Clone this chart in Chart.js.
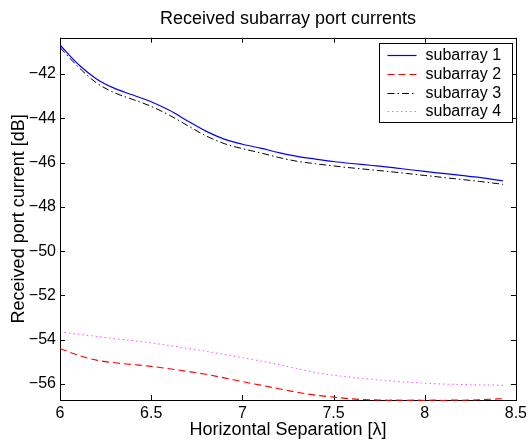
<!DOCTYPE html>
<html>
<head>
<meta charset="utf-8">
<script src="https://cdn.jsdelivr.net/npm/chart.js@4.4.1/dist/chart.umd.min.js"></script>
<style>
  html, body { margin: 0; padding: 0; background: #ffffff; }
  #wrap { width: 531px; height: 441px; }
</style>
</head>
<body>
<div id="wrap"><canvas id="c" width="531" height="441"></canvas></div>
<script>
// ---- data ----
const chartTitle = 'Received subarray port currents';
const xTitle = 'Horizontal Separation [λ]';
const yTitle = 'Received port current [dB]';
const seriesNames = ['subarray 1', 'subarray 2', 'subarray 3', 'subarray 4'];

const separation = [6.0, 6.1, 6.2, 6.3, 6.4, 6.5, 6.6, 6.7, 6.8, 6.9, 7.0, 7.1, 7.2, 7.3, 7.4, 7.5, 7.6, 7.7, 7.8, 7.9, 8.0, 8.1, 8.2, 8.3, 8.4, 8.43];

const subarray1 = [-40.69, -41.56, -42.22, -42.65, -42.95, -43.25, -43.64, -44.12, -44.58, -44.94, -45.17, -45.35, -45.55, -45.72, -45.84, -45.95, -46.04, -46.12, -46.20, -46.30, -46.40, -46.49, -46.58, -46.67, -46.79, -46.83];
const subarray2 = [-54.39, -54.70, -54.92, -55.04, -55.12, -55.20, -55.31, -55.43, -55.56, -55.72, -55.89, -56.05, -56.21, -56.37, -56.50, -56.59, -56.67, -56.71, -56.73, -56.74, -56.74, -56.74, -56.73, -56.71, -56.67, -56.66];
const subarray3 = [-40.80, -41.68, -42.40, -42.85, -43.15, -43.46, -43.86, -44.33, -44.79, -45.14, -45.37, -45.56, -45.77, -45.94, -46.05, -46.15, -46.24, -46.32, -46.40, -46.49, -46.58, -46.67, -46.76, -46.85, -46.95, -46.98];
const subarray4 = [-53.64, -53.75, -53.85, -53.95, -54.04, -54.14, -54.26, -54.39, -54.52, -54.66, -54.81, -54.96, -55.12, -55.30, -55.48, -55.60, -55.70, -55.78, -55.85, -55.91, -55.96, -56.00, -56.02, -56.04, -56.05, -56.06];

const xTicks = [6, 6.5, 7, 7.5, 8, 8.5];
const yTicks = [-56, -54, -52, -50, -48, -46, -44, -42];
const xLimits = [6, 8.5];
const yLimits = [-56.72, -40.36];

// ---- styling ----
const FONT = '"Liberation Sans", Arial, Helvetica, sans-serif';
const styles = [
  { color: '#0000ff', dash: [], width: 1.2 },
  { color: '#ff0000', dash: [7, 4], width: 1.1 },
  { color: '#000000', dash: [7, 3, 1.5, 3], width: 1 },
  { color: 'rgba(255,0,255,0.65)', dash: [1.5, 3], width: 1.1 }
];
const allSeries = [subarray1, subarray2, subarray3, subarray4];

const datasets = allSeries.map((vals, i) => ({
  label: seriesNames[i],
  data: separation.map((x, k) => ({ x: x, y: vals[k] })),
  borderColor: styles[i].color,
  backgroundColor: styles[i].color,
  borderDash: styles[i].dash,
  borderWidth: styles[i].width,
  pointRadius: 0,
  fill: false,
  cubicInterpolationMode: 'monotone',
  clip: { left: 0, top: 1, right: 0, bottom: 1 }
}));

const minusFmt = v => String(v).replace('-', '\u2212');

// frame + inward tick marks on all four sides (drawn under the lines, as in the reference)
const framePlugin = {
  id: 'frame',
  beforeDatasetsDraw(chart) {
    const { ctx, chartArea: a, scales } = chart;
    ctx.save();
    ctx.strokeStyle = '#000';
    ctx.lineWidth = 1;
    ctx.beginPath();
    const L = 5;
    xTicks.forEach(v => {
      const px = Math.round(scales.x.getPixelForValue(v)) + 0.5;
      ctx.moveTo(px, a.bottom); ctx.lineTo(px, a.bottom - L);
      ctx.moveTo(px, a.top); ctx.lineTo(px, a.top + L);
    });
    yTicks.forEach(v => {
      const py = Math.round(scales.y.getPixelForValue(v)) + 0.5;
      ctx.moveTo(a.left, py); ctx.lineTo(a.left + L, py);
      ctx.moveTo(a.right, py); ctx.lineTo(a.right - L, py);
    });
    ctx.stroke();
    ctx.strokeRect(Math.round(a.left) + 0.5, Math.round(a.top) + 0.5,
                   Math.round(a.right - a.left), Math.round(a.bottom - a.top));
    ctx.restore();
  }
};

// MATLAB-style legend box in top right of the axes
const legendPlugin = {
  id: 'boxLegend',
  afterDraw(chart) {
    const { ctx, chartArea: a } = chart;
    const boxW = 133, boxH = 79;
    const right = Math.round(a.right - 4) + 0.5;
    const left = right - boxW;
    const top = Math.round(a.top + 5) + 0.5;
    ctx.save();
    ctx.fillStyle = '#fff';
    ctx.fillRect(left, top, boxW, boxH);
    ctx.strokeStyle = '#000';
    ctx.lineWidth = 1;
    ctx.setLineDash([]);
    ctx.strokeRect(left, top, boxW, boxH);
    ctx.font = '16px ' + FONT;
    ctx.textBaseline = 'middle';
    ctx.textAlign = 'left';
    chart.data.datasets.forEach((ds, i) => {
      const y = Math.round(top + 11.5 + i * 18.8) + 0.5;
      ctx.strokeStyle = ds.borderColor;
      ctx.lineWidth = ds.borderWidth;
      ctx.setLineDash(ds.borderDash);
      ctx.beginPath();
      ctx.moveTo(left + 8, y);
      ctx.lineTo(left + 37, y);
      ctx.stroke();
      ctx.setLineDash([]);
      ctx.fillStyle = '#000';
      ctx.fillText(ds.label, left + 46, y + 0.5);
    });
    ctx.restore();
  }
};

new Chart(document.getElementById('c'), {
  type: 'line',
  data: { datasets: datasets },
  plugins: [framePlugin, legendPlugin],
  options: {
    responsive: false,
    animation: false,
    devicePixelRatio: 1,
    layout: { padding: { left: 0, right: 11, top: 0, bottom: 0 } },
    plugins: {
      legend: { display: false },
      tooltip: { enabled: false },
      title: {
        display: true,
        text: chartTitle,
        fullSize: false,
        color: '#000',
        font: { family: FONT, size: 18, weight: 'normal', lineHeight: 1.2 },
        padding: { top: 8.5, bottom: 7.6 }
      }
    },
    scales: {
      x: {
        type: 'linear',
        min: xLimits[0],
        max: xLimits[1],
        afterBuildTicks: s => { s.ticks = xTicks.map(v => ({ value: v })); },
        afterFit: s => { s.height = 41; },
        grid: { display: false, drawTicks: false },
        border: { display: false },
        ticks: {
          color: '#000',
          padding: 4,
          maxRotation: 0,
          autoSkip: false,
          font: { family: FONT, size: 16 },
          callback: v => minusFmt(v)
        },
        title: {
          display: true,
          text: xTitle,
          color: '#000',
          font: { family: FONT, size: 18, lineHeight: 1.2 },
          padding: { top: 0, bottom: 0 }
        }
      },
      y: {
        type: 'linear',
        min: yLimits[0],
        max: yLimits[1],
        afterBuildTicks: s => { s.ticks = yTicks.map(v => ({ value: v })); },
        afterFit: s => { s.width = 60; },
        grid: { display: false, drawTicks: false },
        border: { display: false },
        ticks: {
          color: '#000',
          padding: 4,
          autoSkip: false,
          font: { family: FONT, size: 16 },
          callback: v => minusFmt(v)
        },
        title: {
          display: true,
          text: yTitle,
          color: '#000',
          font: { family: FONT, size: 18, lineHeight: 1.2 },
          padding: { top: 8, bottom: 0 }
        }
      }
    }
  }
});
</script>
</body>
</html>
